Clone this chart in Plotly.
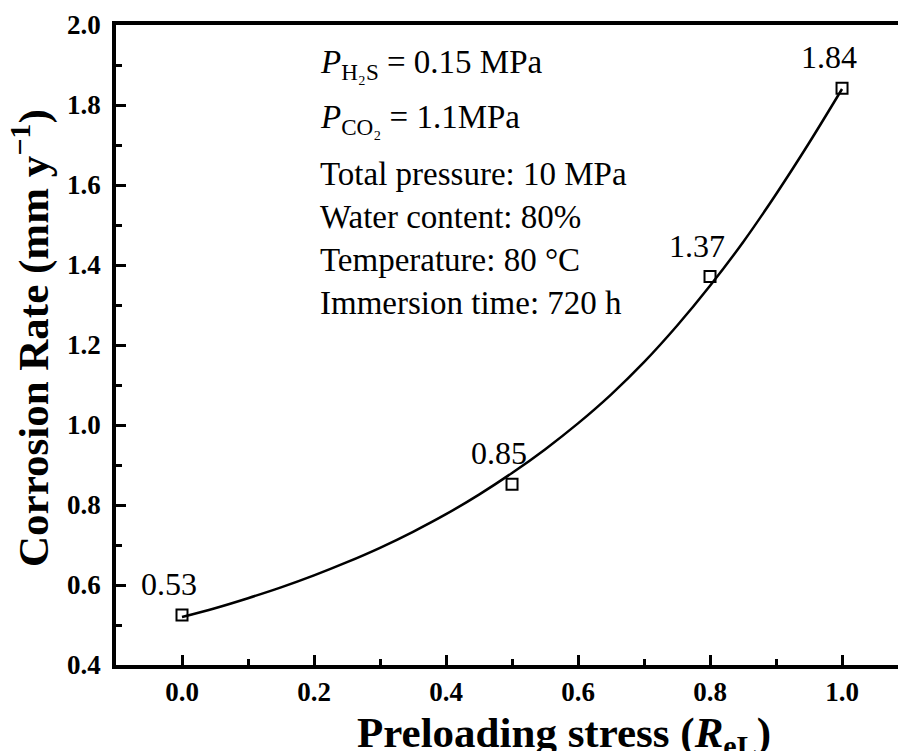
import plotly.graph_objects as go

# Measured data points
stress = [0.0, 0.5, 0.8, 1.0]
rate = [0.525, 0.852, 1.371, 1.842]
rate_labels = ["0.53", "0.85", "1.37", "1.84"]

# Fitted curve
fit_x = [0.0, 0.05, 0.1, 0.15, 0.2, 0.25, 0.3, 0.35, 0.4, 0.45, 0.5,
         0.55, 0.6, 0.65, 0.7, 0.75, 0.8, 0.85, 0.9, 0.95, 1.0]
fit_y = [0.520, 0.542, 0.567, 0.594, 0.624, 0.657, 0.693, 0.733, 0.777, 0.826, 0.880,
         0.939, 1.004, 1.076, 1.157, 1.248, 1.348, 1.457, 1.577, 1.705, 1.840]

x_ticks = [0.0, 0.2, 0.4, 0.6, 0.8, 1.0]
y_ticks = [0.4, 0.6, 0.8, 1.0, 1.2, 1.4, 1.6, 1.8, 2.0]

info_lines = [
    "<i>P</i><sub>H₂S</sub> = 0.15 MPa",
    "<i>P</i><sub>CO₂</sub> = 1.1MPa",
    "Total pressure: 10 MPa",
    "Water content: 80%",
    "Temperature: 80 °C",
    "Immersion time: 720 h",
]

SERIF = "Liberation Serif, Times New Roman, serif"
W, H = 898, 751
L, R, T, B = 116, 0, 25, 86
PW, PH = W - L - R, H - T - B

def px_x(p):
    return (p - L) / PW

def px_y(p):
    return 1 - (p - T) / PH

fig = go.Figure()
fig.add_trace(go.Scatter(
    x=fit_x, y=fit_y, mode="lines", line=dict(color="black", width=2.5, shape="spline", smoothing=1.0),
    showlegend=False, hoverinfo="skip"))
fig.add_trace(go.Scatter(
    x=stress, y=rate, mode="markers",
    marker=dict(symbol="square-open", size=11, color="black", line=dict(width=2, color="black")),
    showlegend=False))

annotations = []
for xv, yv, lab in zip(stress, rate, rate_labels):
    annotations.append(dict(x=xv, y=yv, xref="x", yref="y", text=lab, showarrow=False,
                            xanchor="center", yanchor="bottom", xshift=-13, yshift=11,
                            font=dict(family=SERIF, size=32, color="black")))

baselines = [71, 126, 183, 226, 269, 312]
for txt, bl in zip(info_lines, baselines):
    top = bl - 0.891 * 33
    annotations.append(dict(x=px_x(318), y=px_y(top), xref="paper", yref="paper", text=txt,
                            showarrow=False, xanchor="left", yanchor="top",
                            font=dict(family=SERIF, size=33, color="black")))

# axis titles
annotations.append(dict(x=px_x(564), y=px_y(745 - 0.891 * 43), xref="paper", yref="paper",
                        text="<b>Preloading stress (<i>R</i><sub>eL</sub>)</b>", showarrow=False,
                        xanchor="center", yanchor="top",
                        font=dict(family=SERIF, size=43, color="black")))
annotations.append(dict(x=px_x(30), y=px_y(338), xref="paper", yref="paper",
                        text="<b>Corrosion Rate (mm y<sup>−1</sup>)</b>", showarrow=False,
                        xanchor="center", yanchor="middle", textangle=-90,
                        font=dict(family=SERIF, size=43, color="black")))

fig.update_layout(
    width=W, height=H,
    margin=dict(l=L, r=R, t=T, b=B),
    paper_bgcolor="white", plot_bgcolor="white",
    annotations=annotations,
    font=dict(family=SERIF, color="black"),
)
fig.update_xaxes(
    range=[-0.1, 1.0848], tickvals=x_ticks, ticktext=[f"{v:.1f}" for v in x_ticks],
    ticks="inside", ticklen=10, tickwidth=3, tickcolor="black",
    showline=True, linewidth=3.5, linecolor="black", mirror=True,
    showgrid=False, zeroline=False,
    minor=dict(dtick=0.1, tick0=0, ticks="inside", ticklen=6, tickwidth=3, tickcolor="black", showgrid=False),
    tickfont=dict(family=SERIF, size=27, color="black", weight="bold"),
    ticklabelstandoff=0,
)
fig.update_yaxes(
    range=[0.4, 2.0], tickvals=y_ticks, ticktext=[f"{v:.1f}" for v in y_ticks],
    ticks="inside", ticklen=10, tickwidth=3, tickcolor="black",
    showline=True, linewidth=3.5, linecolor="black", mirror=False,
    showgrid=False, zeroline=False,
    minor=dict(dtick=0.1, tick0=0, ticks="inside", ticklen=6, tickwidth=3, tickcolor="black", showgrid=False),
    tickfont=dict(family=SERIF, size=27, color="black", weight="bold"),
    ticklabelstandoff=6,
)

fig.write_html("out.html")
